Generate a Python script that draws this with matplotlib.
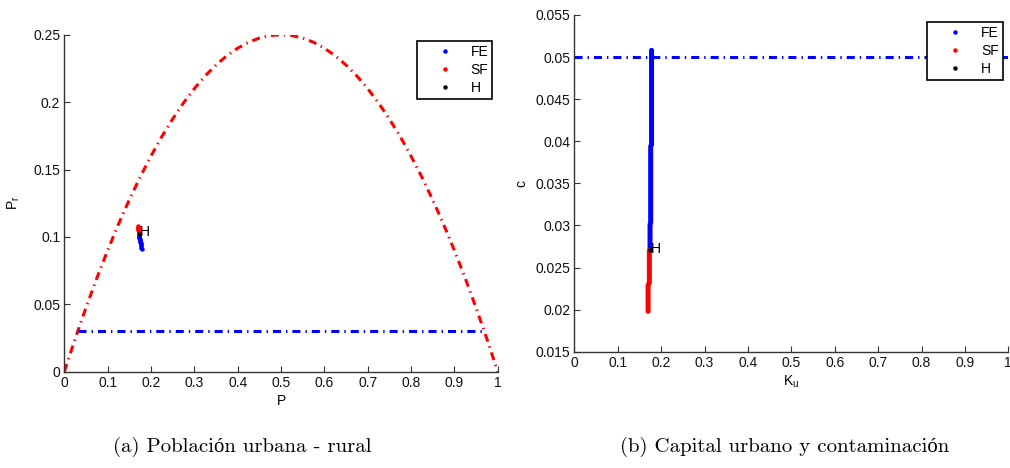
import matplotlib
matplotlib.use("Agg")
import matplotlib.pyplot as plt
from matplotlib.lines import Line2D

plt.rcParams['font.family'] = ['Liberation Sans', 'DejaVu Sans']
plt.rcParams['lines.scale_dashes'] = False

# ---- data (a) ----
curve_P = [0.0, 0.025, 0.05, 0.075, 0.1, 0.125, 0.15, 0.175, 0.2, 0.225, 0.25, 0.275, 0.3, 0.325,
           0.35, 0.375, 0.4, 0.425, 0.45, 0.475, 0.5, 0.525, 0.55, 0.575, 0.6, 0.625, 0.65, 0.675,
           0.7, 0.725, 0.75, 0.775, 0.8, 0.825, 0.85, 0.875, 0.9, 0.925, 0.95, 0.975, 1.0]
curve_Pr = [0.0, 0.0244, 0.0475, 0.0694, 0.09, 0.1094, 0.1275, 0.1444, 0.16, 0.1744, 0.1875, 0.1994,
            0.21, 0.2194, 0.2275, 0.2344, 0.24, 0.2444, 0.2475, 0.2494, 0.25, 0.2494, 0.2475, 0.2444,
            0.24, 0.2344, 0.2275, 0.2194, 0.21, 0.1994, 0.1875, 0.1744, 0.16, 0.1444, 0.1275, 0.1094,
            0.09, 0.0694, 0.0475, 0.0244, 0.0]
hline_a_x = [0.0315, 0.9685]
hline_a_y = [0.03, 0.03]
sf_a_P = [0.1700, 0.1703, 0.1706, 0.1709, 0.1712, 0.1715, 0.1718, 0.1721]
sf_a_Pr = [0.1080, 0.1073, 0.1066, 0.1059, 0.1052, 0.1045, 0.1038, 0.1030]
fe_a_P = [0.1725, 0.1730, 0.1735, 0.1740, 0.1745, 0.1750, 0.1755, 0.1760, 0.1765, 0.1770, 0.1775, 0.1780, 0.1785]
fe_a_Pr = [0.1010, 0.1002, 0.0994, 0.0986, 0.0978, 0.0970, 0.0962, 0.0954, 0.0946, 0.0938, 0.0930, 0.0920, 0.0910]
h_a = (0.1722, 0.1020)

# ---- data (b) ----
hline_b_x = [0.0, 1.0]
hline_b_y = [0.05, 0.05]
fe_b_K = [0.1780, 0.1780, 0.1780, 0.1780, 0.1780, 0.1780, 0.1780, 0.1780, 0.1780, 0.1780, 0.1780, 0.1780,
          0.1760, 0.1760, 0.1760, 0.1760, 0.1760, 0.1760, 0.1760, 0.1760, 0.1760, 0.1760,
          0.1745, 0.1745, 0.1745, 0.1745]
fe_b_c = [0.0508, 0.0498, 0.0488, 0.0478, 0.0468, 0.0458, 0.0448, 0.0438, 0.0428, 0.0418, 0.0408, 0.0396,
          0.0394, 0.0384, 0.0374, 0.0364, 0.0354, 0.0344, 0.0334, 0.0324, 0.0314, 0.0303,
          0.0301, 0.0291, 0.0281, 0.0272]
sf_b_K = [0.1730, 0.1730, 0.1730, 0.1730, 0.1730, 0.1700, 0.1700, 0.1700, 0.1700]
sf_b_c = [0.0270, 0.0260, 0.0250, 0.0240, 0.0232, 0.0229, 0.0219, 0.0209, 0.0198]
h_b = (0.1735, 0.0271)

xticks = [0, 0.1, 0.2, 0.3, 0.4, 0.5, 0.6, 0.7, 0.8, 0.9, 1]
xticklabels = ['0', '0.1', '0.2', '0.3', '0.4', '0.5', '0.6', '0.7', '0.8', '0.9', '1']
yticks_a = [0, 0.05, 0.1, 0.15, 0.2, 0.25]
yticklabels_a = ['0', '0.05', '0.1', '0.15', '0.2', '0.25']
yticks_b = [0.015, 0.02, 0.025, 0.03, 0.035, 0.04, 0.045, 0.05, 0.055]
yticklabels_b = ['0.015', '0.02', '0.025', '0.03', '0.035', '0.04', '0.045', '0.05', '0.055']
legend_labels = ['FE', 'SF', 'H']
captions = ['(a) Población urbana - rural', '(b) Capital urbano y contaminación']

W, H = 1010, 468
fig = plt.figure(figsize=(W / 100, H / 100), dpi=100)

def box(l, r, t, b):
    return [l / W, 1 - b / H, (r - l) / W, (b - t) / H]

ax1 = fig.add_axes(box(64.3, 497.7, 34.7, 371.7))
ax2 = fig.add_axes(box(574.3, 1008.3, 15.0, 351.7))

DASH = (5.8, 3.6, 1.0, 3.6)
LW = 2.2
ms = 3.2
tick_fs = 10
axcol = '#333333'

for ax in (ax1, ax2):
    for s in ('top', 'right'):
        ax.spines[s].set_visible(False)
    for s in ('left', 'bottom'):
        ax.spines[s].set_color(axcol)
        ax.spines[s].set_linewidth(1.0)
    ax.tick_params(direction='in', length=4, width=0.8, colors=axcol, labelcolor='#111111',
                   labelsize=tick_fs, pad=3)
    ax.set_xlim(0, 1)
    ax.set_xticks(xticks)
    ax.set_xticklabels(xticklabels)

# (a)
ax1.plot(curve_P, curve_Pr, color='red', lw=LW, dashes=DASH)
ax1.plot(hline_a_x, hline_a_y, color='blue', lw=LW, dashes=DASH)
ax1.plot(sf_a_P, sf_a_Pr, 'o', color='red', ms=ms, mec='none')
ax1.plot(fe_a_P, fe_a_Pr, 'o', color='blue', ms=ms, mec='none')
ax1.plot([h_a[0]], [h_a[1]], 'o', color='black', ms=ms, mec='none')
ax1.text(h_a[0] + 0.002, h_a[1] + 0.0015, 'H', fontsize=10, va='center', ha='left')
ax1.set_ylim(0, 0.25)
ax1.set_yticks(yticks_a)
ax1.set_yticklabels(yticklabels_a)
ax1.set_ylabel('P$_\\mathregular{r}$', fontsize=10, labelpad=8)
ax1.set_xlabel('P', fontsize=10, labelpad=3)

# (b)
ax2.plot(hline_b_x, hline_b_y, color='blue', lw=LW, dashes=DASH)
ax2.plot(fe_b_K, fe_b_c, '-', color='blue', lw=3.6, solid_capstyle='round')
ax2.plot(sf_b_K, sf_b_c, '-', color='red', lw=3.6, solid_capstyle='round')
ax2.plot([h_b[0]], [h_b[1]], 'o', color='black', ms=ms, mec='none')
ax2.text(h_b[0] + 0.003, h_b[1] + 0.0001, 'H', fontsize=10, va='center', ha='left')
ax2.set_ylim(0.015, 0.055)
ax2.set_yticks(yticks_b)
ax2.set_yticklabels(yticklabels_b)
ax2.set_ylabel('c', fontsize=10, labelpad=5)
ax2.set_xlabel('K$_\\mathregular{u}$', fontsize=10, labelpad=3)

# legends
handles = [Line2D([], [], ls='none', marker='o', ms=3.2, color=c, mec='none')
           for c in ('blue', 'red', 'black')]
for ax, loc in ((ax1, (0.813, 0.981)), (ax2, (0.813, 0.980))):
    leg = ax.legend(handles, legend_labels, loc='upper left', bbox_to_anchor=loc,
                    frameon=True, fancybox=False, framealpha=1.0, fontsize=10, handlelength=3.5,
                    handletextpad=0.1, borderpad=0.28, labelspacing=0.3, markerfirst=True,
                    borderaxespad=0)
    fr = leg.get_frame()
    fr.set_edgecolor('black')
    fr.set_facecolor('white')
    fr.set_linewidth(1.2)
    for t in leg.get_texts():
        t.set_ha('left')

# captions
cap_fam = ['cmr10', 'Liberation Serif']
fig.text(242 / W, 1 - 447 / H, captions[0], ha='center', va='center', fontsize=15, family=cap_fam)
fig.text(785 / W, 1 - 447 / H, captions[1], ha='center', va='center', fontsize=15, family=cap_fam)

fig.savefig('out.png', dpi=100)
